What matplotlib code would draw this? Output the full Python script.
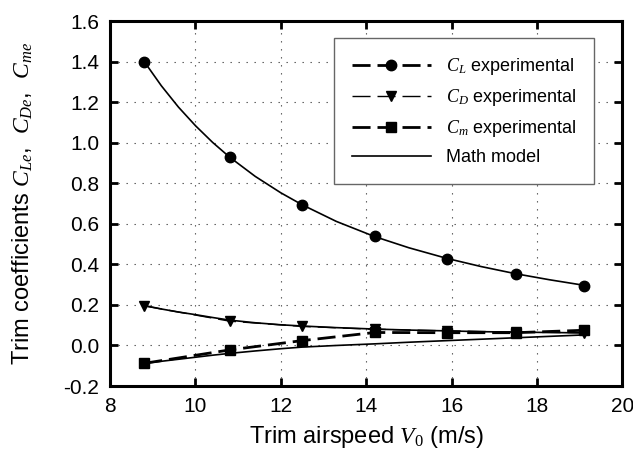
import matplotlib

matplotlib.use("Agg")
import matplotlib.pyplot as plt
from matplotlib.lines import Line2D

plt.rcParams["font.family"] = ["Liberation Sans", "DejaVu Sans"]
plt.rcParams["mathtext.fontset"] = "custom"
plt.rcParams["mathtext.rm"] = "Liberation Serif"
plt.rcParams["mathtext.it"] = "Liberation Serif:italic"
plt.rcParams["axes.unicode_minus"] = False

# experimental trim points
v_exp = [8.8, 10.8, 12.5, 14.2, 15.9, 17.5, 19.1]
cl_exp = [1.40, 0.929, 0.694, 0.540, 0.429, 0.354, 0.294]
cd_exp = [0.195, 0.120, 0.094, 0.080, 0.072, 0.066, 0.063]
cm_exp = [-0.088, -0.022, 0.024, 0.064, 0.063, 0.063, 0.075]

# math model curves
v_model = [8.8, 9.2, 9.6, 10.0, 10.4, 10.8, 11.4, 12.0, 12.5, 13.3, 14.2,
           15.0, 15.9, 16.7, 17.5, 18.3, 19.1]
cl_model = [1.400, 1.281, 1.176, 1.084, 1.002, 0.929, 0.834, 0.753, 0.694,
            0.612, 0.537, 0.482, 0.429, 0.389, 0.354, 0.324, 0.297]
cd_model = [0.197, 0.180, 0.165, 0.152, 0.138, 0.125, 0.112, 0.102, 0.096,
            0.088, 0.081, 0.076, 0.072, 0.068, 0.066, 0.064, 0.062]
cm_model = [-0.088, -0.078, -0.068, -0.058, -0.048, -0.039, -0.027, -0.016,
            -0.008, 0.000, 0.008, 0.016, 0.024, 0.031, 0.038, 0.045, 0.052]

x_ticks = [8, 10, 12, 14, 16, 18, 20]
y_ticks = [-0.2, 0.0, 0.2, 0.4, 0.6, 0.8, 1.0, 1.2, 1.4, 1.6]

fig = plt.figure(figsize=(6.33, 4.59), dpi=100)
ax = fig.add_axes([0.174, 0.159, 0.809, 0.795])

thick = dict(color="black", lw=2, dashes=(6.5, 2.5))
thin = dict(color="black", lw=1, dashes=(13, 5))

# C_L points sit on the model curve, only markers show
ax.plot(v_exp, cl_exp, color="black", ls="none", marker="o", ms=7.5)
ax.plot(v_exp, cd_exp, marker="v", ms=7.5, **thin)
ax.plot(v_exp, cm_exp, marker="s", ms=7, **thick)
ax.plot(v_model, cl_model, color="black", lw=1.2)
ax.plot(v_model, cd_model, color="black", lw=1.2)
ax.plot(v_model, cm_model, color="black", lw=1.2)

ax.set_xlim(8, 20)
ax.set_ylim(-0.2, 1.6)
ax.set_xticks(x_ticks)
ax.set_yticks(y_ticks)
ax.set_yticklabels([f"{t:.1f}" for t in y_ticks])
ax.grid(True, color="0.3", lw=0.8, linestyle=(0, (1.2, 6)))
ax.set_axisbelow(True)

for side in ax.spines.values():
    side.set_linewidth(2.2)
ax.tick_params(direction="in", length=6, width=2, top=True, right=True,
               labelsize=15, pad=8)

ax.set_xlabel("Trim airspeed $V_0$ (m/s)", fontsize=17, labelpad=6)
ax.set_ylabel("Trim coefficients $C_{Le}$,  $C_{De}$,  $C_{me}$", fontsize=17,
              labelpad=20)

handles = [
    Line2D([], [], marker="o", ms=7.5, **thick),
    Line2D([], [], marker="v", ms=7.5, **thin),
    Line2D([], [], marker="s", ms=7, **thick),
    Line2D([], [], color="black", lw=1.2),
]
labels = ["$C_L$ experimental", "$C_D$ experimental", "$C_m$ experimental",
          "Math model"]
leg = ax.legend(handles, labels, loc="upper right",
                bbox_to_anchor=(0.945, 0.953), borderaxespad=0, fontsize=13,
                handlelength=4.4, handletextpad=0.8, borderpad=1.0,
                labelspacing=0.55, numpoints=1, fancybox=False, framealpha=1,
                edgecolor="0.4")
leg.get_frame().set_linewidth(1.0)

fig.savefig("out.png", dpi=100)
